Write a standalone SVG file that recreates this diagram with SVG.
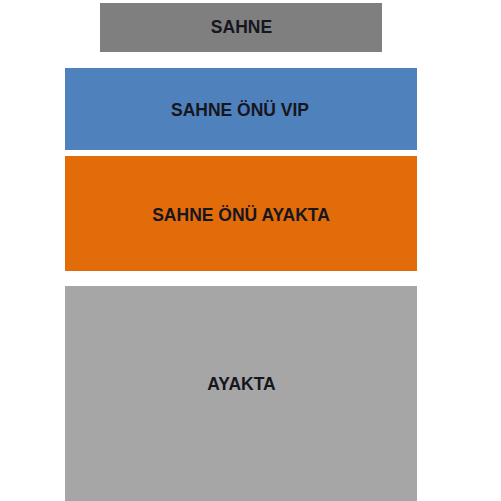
<svg xmlns="http://www.w3.org/2000/svg" width="501" height="501" viewBox="0 0 501 501">
<style>
.lbl{font-family:"Liberation Sans",Arial,sans-serif;font-weight:bold;font-size:17.5px;fill:#16161f;text-anchor:middle}
</style>
<rect x="0" y="0" width="501" height="501" fill="#ffffff"/>
<g id="sahne">
<rect x="100" y="3" width="282" height="49" fill="#7f7f7f"/>
<text class="lbl" x="241.5" y="33">SAHNE</text>
</g>
<g id="sahne-onu-vip">
<rect x="65" y="68" width="352" height="82" fill="#4f81bd"/>
<text class="lbl" x="240" y="116">SAHNE ÖNÜ VIP</text>
</g>
<g id="sahne-onu-ayakta">
<rect x="65" y="156" width="352" height="115" fill="#e36c0a"/>
<text class="lbl" x="241" y="220.5">SAHNE ÖNÜ AYAKTA</text>
</g>
<g id="ayakta">
<rect x="65" y="286" width="352" height="215" fill="#a6a6a6"/>
<text class="lbl" x="241.5" y="389.5">AYAKTA</text>
</g>
<g id="connectors"></g>
</svg>
